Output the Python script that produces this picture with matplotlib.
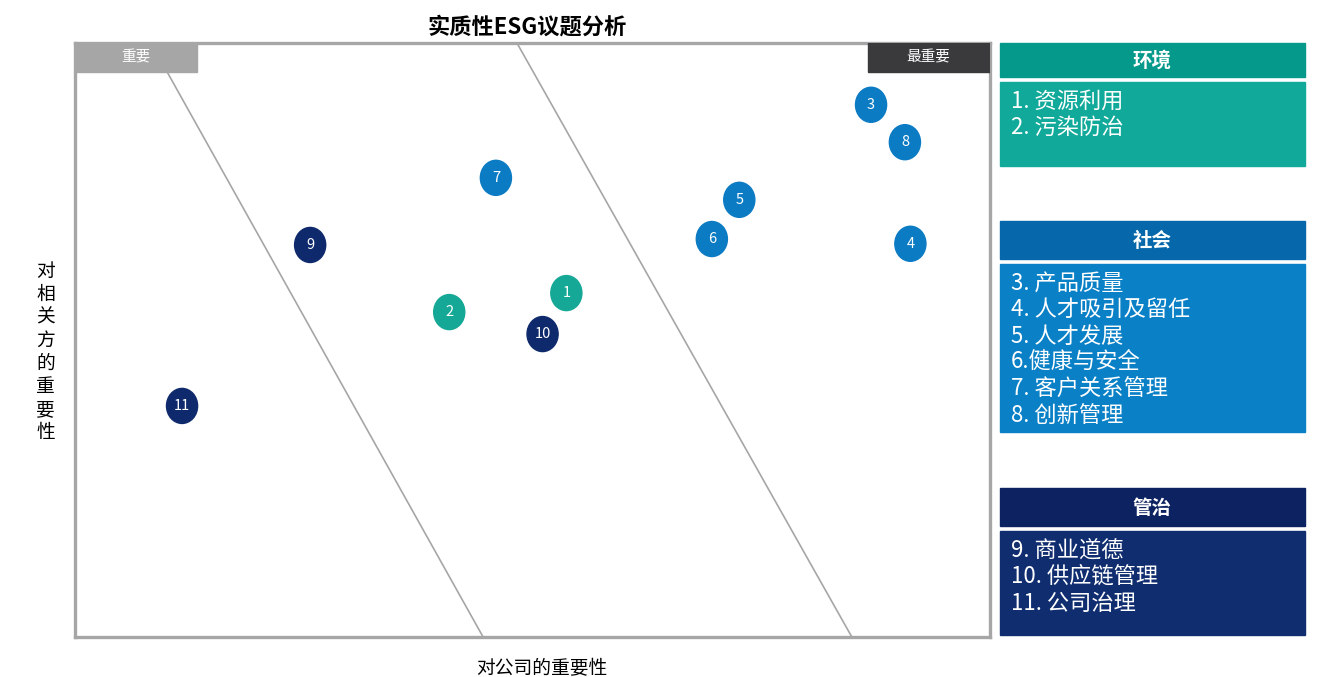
import matplotlib
matplotlib.use('Agg')
import matplotlib.pyplot as plt
from matplotlib.patches import Ellipse, Rectangle

plt.rcParams['font.family'] = ['Noto Sans CJK SC', 'DejaVu Sans']

# 议题编号 / 对公司的重要性 / 对相关方的重要性 / 类别
issue_ids = [1, 2, 3, 4, 5, 6, 7, 8, 9, 10, 11]
company_imp = [53.7, 40.9, 87.0, 91.3, 72.6, 69.6, 46.0, 90.7, 25.7, 51.1, 11.7]
stake_imp = [57.9, 54.7, 89.6, 66.2, 73.6, 67.0, 77.3, 83.3, 66.0, 51.0, 38.9]
issue_group = ['环境', '环境', '社会', '社会', '社会', '社会', '社会', '社会', '管治', '管治', '管治']

# 分界线 (x在顶部, x在底部)
divider_top = [8.3, 48.3]
divider_bottom = [44.6, 84.9]

groups = ['环境', '社会', '管治']
group_items = {
    '环境': ['1. 资源利用', '2. 污染防治'],
    '社会': ['3. 产品质量', '4. 人才吸引及留任', '5. 人才发展', '6.健康与安全',
           '7. 客户关系管理', '8. 创新管理'],
    '管治': ['9. 商业道德', '10. 供应链管理', '11. 公司治理'],
}
bubble_color = {'环境': '#16a896', '社会': '#0b7bc4', '管治': '#0f2a6c'}
head_color = {'环境': '#04998a', '社会': '#0668aa', '管治': '#0d2260'}
body_color = {'环境': '#11aa9a', '社会': '#0a80c6', '管治': '#102d6f'}
# 右侧面板像素位置: 标题框上/下, 内容框上/下
panel_y = {'环境': (43, 77, 82, 166), '社会': (221, 259, 264, 432), '管治': (488, 526, 531, 635)}

W, H = 1320, 677
fig = plt.figure(figsize=(W / 100, H / 100), dpi=100)
ax = fig.add_axes([75 / W, (H - 637) / H, 915 / W, 594 / H])
ax.set_xlim(0, 100)
ax.set_ylim(0, 100)
ax.set_xticks([])
ax.set_yticks([])
for s in ax.spines.values():
    s.set_color('#a6a6a6')
    s.set_linewidth(2.4)

for xt, xb in zip(divider_top, divider_bottom):
    ax.plot([xt, xb], [100, 0], color='#a6a6a6', lw=1.2, zorder=1)

# 角标
ax.add_patch(Rectangle((0, 95.1), 13.3, 4.9, color='#a6a6a6', zorder=3))
ax.text(6.65, 97.5, '重要', color='white', fontsize=10.5, ha='center', va='center', zorder=4)
ax.add_patch(Rectangle((86.7, 95.1), 13.3, 4.9, color='#3a3a3c', zorder=3))
ax.text(93.3, 97.5, '最重要', color='white', fontsize=10.5, ha='center', va='center', zorder=4)

for i, x, y, g in zip(issue_ids, company_imp, stake_imp, issue_group):
    ax.add_patch(Ellipse((x, y), 3.4, 5.9, color=bubble_color[g], zorder=5))
    ax.text(x, y, str(i), color='white', fontsize=10.5, ha='center', va='center', zorder=6)

ax.set_title('实质性ESG议题分析', fontsize=16, fontweight='bold', pad=7, x=0.494)
ax.set_xlabel('对公司的重要性', fontsize=13.5, labelpad=14)
ax.xaxis.set_label_coords(0.51, -0.035)
ax.xaxis.label.set_va('top')
ax.set_ylabel('\n'.join('对相关方的重要性'), fontsize=13.5, rotation=0,
              ha='center', va='center', linespacing=1.13)
ax.yaxis.set_label_coords(-0.032, 0.48)

# 右侧说明面板
pan = fig.add_axes([0, 0, 1, 1], zorder=-1)
pan.set_xlim(0, W)
pan.set_ylim(H, 0)
pan.set_axis_off()
for g in groups:
    h0, h1, b0, b1 = panel_y[g]
    pan.add_patch(Rectangle((1000, h0), 305, h1 - h0, color=head_color[g]))
    pan.text(1152, (h0 + h1) / 2 + 1, g, color='white', fontsize=14, fontweight='bold',
             ha='center', va='center')
    pan.add_patch(Rectangle((1000, b0), 305, b1 - b0, color=body_color[g]))
    for k, item in enumerate(group_items[g]):
        pan.text(1011, b0 + 19 + k * 26.5, item, color='white', fontsize=16,
                 ha='left', va='center')

fig.savefig('out.png', dpi=100)
